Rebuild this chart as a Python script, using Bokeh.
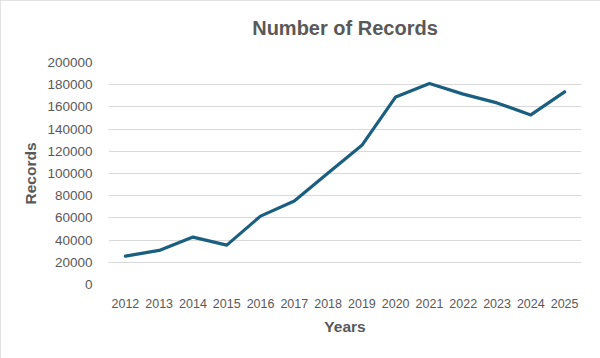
from bokeh.plotting import figure
from bokeh.models import (FactorRange, Range1d, FixedTicker, BasicTickFormatter,
                          ColumnDataSource, LinearAxis)
from bokeh.embed import file_html
from bokeh.resources import INLINE

years = ["2012", "2013", "2014", "2015", "2016", "2017", "2018",
         "2019", "2020", "2021", "2022", "2023", "2024", "2025"]
records = [25500, 30700, 42700, 35500, 61600, 75200, 100500,
           125400, 169000, 181100, 171500, 163600, 152800, 173600]
y_ticks = [0, 20000, 40000, 60000, 80000, 100000, 120000, 140000,
           160000, 180000, 200000]
title_text = "Number of Records"

FONT = "Liberation Sans"
GRAY = "#595959"

W, H = 600, 358
LEFT, RIGHT, TOP, BOTTOM = 108, 19, 62, 74

src = ColumnDataSource(dict(x=years, y=records))

p = figure(width=W, height=H, output_backend="svg", toolbar_location=None,
           x_range=FactorRange(*years, range_padding=0),
           y_range=Range1d(0, 200000),
           min_border_left=LEFT, min_border_right=RIGHT,
           min_border_top=TOP, min_border_bottom=BOTTOM)

p.styles = {"outline": "1px solid #d9d9d9", "outline-offset": "-1px"}

bottom_axis = p.below[0]
left_axis = p.left[0]

p.line("x", "y", source=src, line_color="#1b5f80", line_width=3.2,
       line_join="round", line_cap="round")

p.outline_line_color = None
p.xgrid.grid_line_color = None
p.ygrid.grid_line_color = "#d9d9d9"
p.ygrid.grid_line_width = 1

left_axis.ticker = FixedTicker(ticks=y_ticks)
left_axis.formatter = BasicTickFormatter(use_scientific=False)
for ax in (bottom_axis, left_axis):
    ax.axis_line_color = None
    ax.major_tick_line_color = None
    ax.minor_tick_line_color = None
    ax.major_label_text_font = FONT
    ax.major_label_text_color = GRAY
    ax.axis_label_text_font = FONT
    ax.axis_label_text_color = GRAY
    ax.axis_label_text_font_style = "bold"
    ax.axis_label_text_font_size = "15.5px"

left_axis.major_label_text_font_size = "13.5px"
bottom_axis.major_label_text_font_size = "12.5px"
left_axis.major_label_standoff = 10
bottom_axis.major_label_standoff = 8
left_axis.axis_label = "Records"
bottom_axis.axis_label = "Years"
left_axis.axis_label_standoff = 5
bottom_axis.axis_label_standoff = 7

# title drawn as the label of an empty top axis
top_axis = LinearAxis(ticker=FixedTicker(ticks=[]), axis_label=title_text,
                      axis_line_color=None, major_tick_line_color=None,
                      minor_tick_line_color=None, major_tick_out=0, minor_tick_out=0,
                      axis_label_text_font=FONT, axis_label_text_font_size="20px",
                      axis_label_text_color=GRAY, axis_label_text_font_style="bold",
                      axis_label_standoff=24)
p.add_layout(top_axis, "above")

open("out.html", "w").write(file_html(p, INLINE))
